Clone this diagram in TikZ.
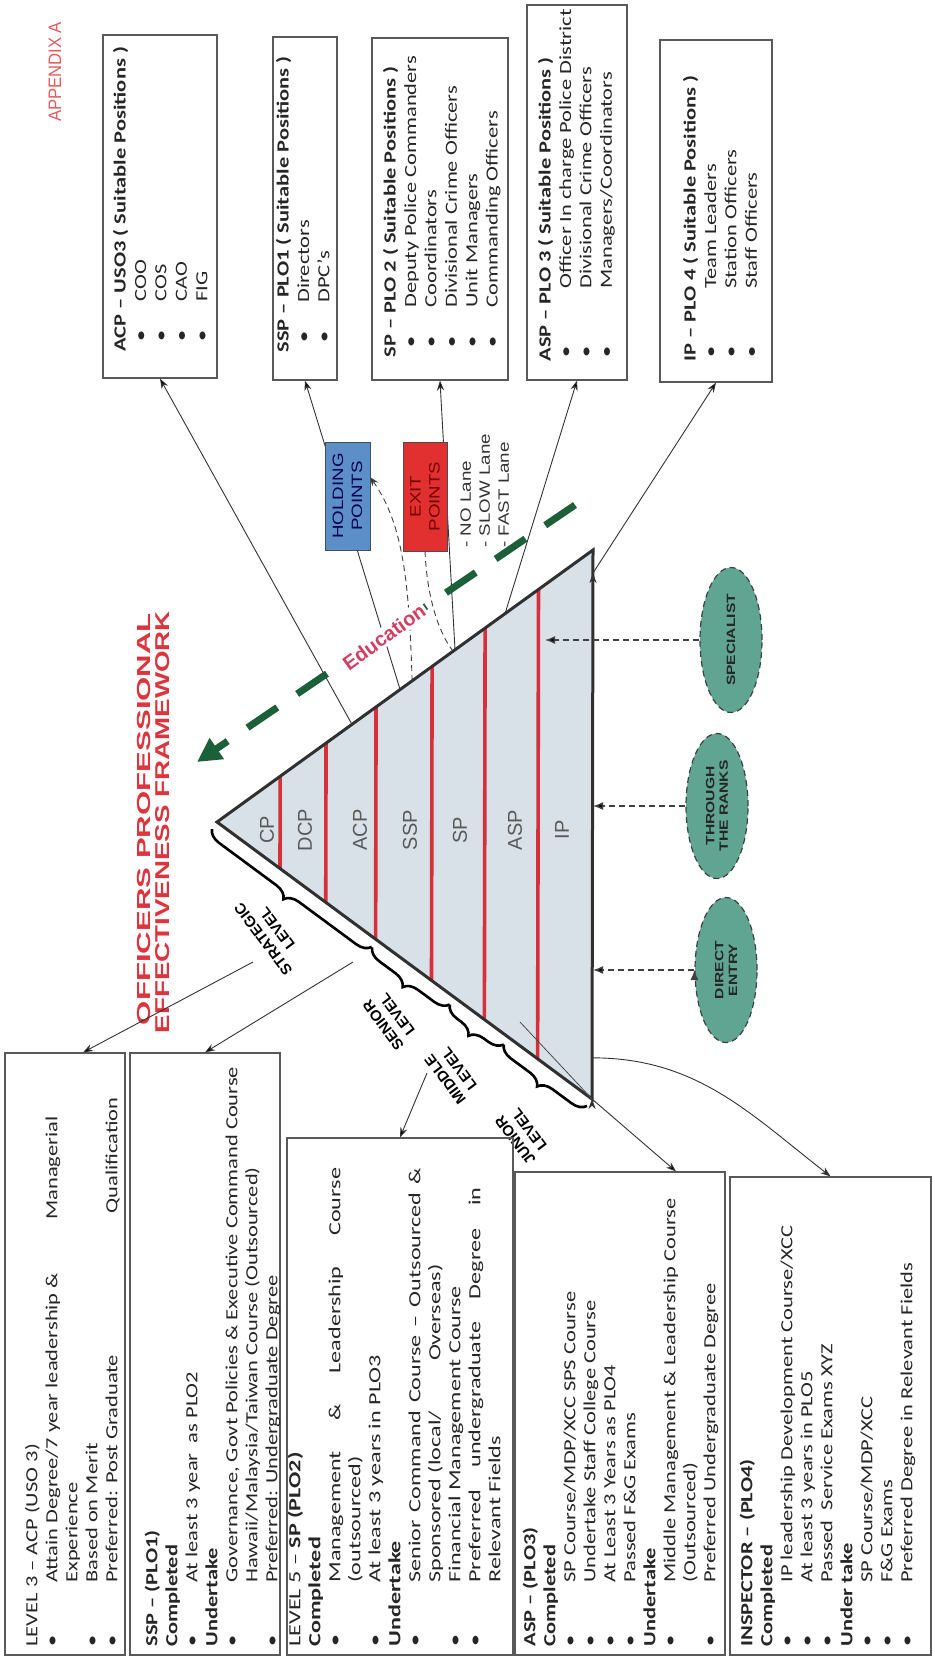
\documentclass[tikz,border=0pt]{standalone}
\usepackage{fontspec}
\usepackage{graphicx}
\setmainfont{Liberation Sans}
\newfontfamily\boxfnt{Carlito}
\usetikzlibrary{arrows.meta,calc,fit,shapes.geometric,decorations.pathreplacing}

\definecolor{titlered}{RGB}{222,52,62}
\definecolor{apxred}{RGB}{232,90,90}
\definecolor{edured}{RGB}{212,62,98}
\definecolor{edugreen}{RGB}{28,96,58}
\definecolor{trifill}{RGB}{216,225,231}
\definecolor{triedge}{RGB}{48,48,48}
\definecolor{bandred}{RGB}{214,48,58}
\definecolor{holdblue}{RGB}{92,142,200}
\definecolor{exitred}{RGB}{226,48,48}
\definecolor{ovalteal}{RGB}{96,164,146}

\newcommand{\tb}[1]{\makebox[18.9pt][l]{\hspace{3.8pt}\textbullet}#1}
\newcommand{\tw}[1]{\makebox[27.6pt][l]{\hspace{1.5pt}\textbullet}#1}
\newcommand{\bb}[2][24.2pt]{\makebox[#1][l]{\textbullet}#2}
\newcommand{\bc}[2][24.2pt]{\hspace*{#1}#2}

\tikzset{
  vtxt/.style={rotate=90, anchor=north west, align=left, inner sep=0pt, text=black!85},
  toptxt/.style={vtxt, xscale=1.32, font=\boxfnt\fontsize{8.5}{10.2}\selectfont},
  bottxt/.style={vtxt, xscale=1.32, font=\boxfnt\fontsize{8.5}{10}\selectfont},
  posbox/.style={draw=black!65, line width=0.6pt, inner sep=0pt},
  arr/.style={draw=black!80, line width=0.45pt, -{Stealth[length=5pt,width=3.6pt]}},
  band/.style={draw=bandred, line width=1.8pt},
  lvl/.style={rotate=127, align=center, inner sep=0pt, font=\bfseries\fontsize{7.5}{8.6}\selectfont},
  brc/.style={decorate, decoration={brace, amplitude=7pt, mirror}, line width=1.3pt},
  rank/.style={rotate=90, text=black!65, font=\fontsize{10}{12}\selectfont},
  oval/.style={ellipse, draw=black!75, densely dashed, line width=0.6pt, fill=ovalteal,
    minimum width=31pt, minimum height=72.5pt, inner sep=0pt},
  ovtxt/.style={rotate=90, xscale=1.3, align=center, text=black!85, font=\bfseries\fontsize{6}{6.8}\selectfont},
  entry/.style={draw=black!75, line width=0.7pt, dash pattern=on 3pt off 2pt, -{Latex[length=5pt,width=4pt]}},
  ptbox/.style={draw=black!70, line width=0.5pt, inner sep=0pt},
  pttxt/.style={rotate=90, xscale=1.25, align=center, font=\fontsize{7.5}{9.5}\selectfont},
  dsh/.style={draw=black!75, line width=0.45pt, dash pattern=on 3pt off 2pt},
  edu/.style={draw=edugreen, line width=3.5pt, dash pattern=on 18pt off 12pt,
    -{Triangle[length=12pt,width=12pt]}},
}

\begin{document}
\begin{tikzpicture}[x=0.5pt, y=0.5pt]
      \useasboundingbox (0, 0) rectangle (934, -1658);
      \coordinate (apex) at (217, -822);
      \coordinate (topc) at (593, -550);
      \coordinate (botc) at (592, -1099);
      \fill[trifill] (apex) -- (topc) -- (botc) -- cycle;
      \draw[band] ($(apex)!0.168!(topc)$) -- ($(apex)!0.168!(botc)$)
                  ($(apex)!0.290!(topc)$) -- ($(apex)!0.290!(botc)$)
                  ($(apex)!0.423!(topc)$) -- ($(apex)!0.423!(botc)$)
                  ($(apex)!0.572!(topc)$) -- ($(apex)!0.572!(botc)$)
                  ($(apex)!0.713!(topc)$) -- ($(apex)!0.713!(botc)$)
                  ($(apex)!0.855!(topc)$) -- ($(apex)!0.855!(botc)$);
      \draw[triedge, line width=1.5pt] (apex) -- (topc) -- (botc) -- cycle;
      \draw[black!70, line width=0.4pt] (botc) -- (520, -1022) coordinate (jl);
      \path (267, -830) node (cp) [rank] {CP}
            (305, -830) node (dcp) [rank] {DCP}
            (360, -830) node (acp) [rank] {ACP}
            (410, -830) node (ssp) [rank] {SSP}
            (460, -830) node (sp) [rank] {SP}
            (515, -830) node (asp) [rank] {ASP}
            (562, -830) node (ip) [rank] {IP};

      \coordinate (ea) at ($(apex)+(-5, -7)$);
      \coordinate (eb) at ($(botc)+(-5, -7)$);
      \draw[brc] (ea) -- ($(ea)!0.427!(eb)$);
      \draw[brc] ($(ea)!0.427!(eb)$) -- ($(ea)!0.634!(eb)$);
      \draw[brc] ($(ea)!0.634!(eb)$) -- ($(ea)!0.778!(eb)$);
      \draw[brc] ($(ea)!0.778!(eb)$) -- (eb);
      \path (270, -934) node (strat) [lvl] {STRATEGIC\\LEVEL}
            (390, -1020) node (senior) [lvl] {SENIOR\\LEVEL}
            (452, -1074) node (middle) [lvl] {MIDDLE\\LEVEL}
            (522, -1135) node (junior) [lvl] {JUNIOR\\LEVEL};

      \node (ttl1) [rotate=90, text=titlered, font=\bfseries] at (144, -819)
            {\resizebox{206pt}{6.6pt}{OFFICERS PROFESSIONAL}};
      \node (ttl2) [rotate=90, text=titlered, font=\bfseries] at (163, -822)
            {\resizebox{211pt}{7pt}{EFFECTIVENESS FRAMEWORK}};
      \node (apx) [rotate=90, text=apxred] at (55, -72)
            {\resizebox{50pt}{6.2pt}{APPENDIX A}};

      \node (acpbox) [posbox, fit={(103, -35) (217, -378)}] {};
      \node (sspbx) [posbox, fit={(273, -37) (337, -380)}] {};
      \node (spbox) [posbox, fit={(372, -38) (508, -380)}] {};
      \node (aspbx) [posbox, fit={(527, -5) (627, -380)}] {};
      \node (ipbox) [posbox, fit={(660, -40) (772, -382)}] {};
      \node (acptxt) [toptxt] at (111, -352)
            {\strut\textbf{ACP – USO3 ( Suitable Positions )}\\\tb{COO}\\\tb{COS}\\\tb{CAO}\\\tb{FIG}};
      \node (ssptxt) [toptxt] at (274, -353)
            {\strut\textbf{SSP – PLO1 ( Suitable Positions )}\\\tb{Directors}\\\tb{DPC’s}};
      \node (sptxt) [toptxt] at (381, -358)
            {\strut\textbf{SP – PLO 2 ( Suitable Positions )}\\\tb{Deputy Police Commanders}\\
             \tb{Coordinators}\\\tb{Divisional Crime Officers}\\\tb{Unit Managers}\\\tb{Commanding Officers}};
      \node (asptxt) [toptxt] at (536, -362)
            {\strut\textbf{ASP – PLO 3 ( Suitable Positions )}\\\tw{Officer In charge Police District}\\
             \tw{Divisional Crime Officers}\\\tw{Managers/Coordinators}};
      \node (iptxt) [toptxt] at (681, -362)
            {\strut\textbf{IP – PLO 4 ( Suitable Positions )}\\\tw{Team Leaders}\\\tw{Station Officers}\\\tw{Staff Officers}};

      \node (lvl3box) [posbox, fit={(5, -1053) (125, -1655)}] {};
      \node (sspbox) [posbox, fit={(130, -1053) (280, -1655)}] {};
      \node (lvl5box) [posbox, fit={(287, -1138) (513, -1655)}] {};
      \node (aspbox) [posbox, fit={(515, -1172) (725, -1655)}] {};
      \node (inspbox) [posbox, fit={(730, -1177) (931, -1655)}] {};
      \node (lvl3txt) [bottxt] at (23, -1647)
            {\strut LEVEL 3 – ACP (USO 3)\\
             \bb{\makebox[176.5pt][l]{Attain Degree/7 year leadership \&\hfill Managerial}}\\
             \bc{Experience}\\\bb{Based on Merit}\\
             \bb{\makebox[183.7pt][l]{Preferred: Post Graduate\hfill Qualification}}};
      \node (sspbtxt) [bottxt] at (143, -1647)
            {\strut\textbf{SSP – (PLO1)}\\\textbf{Completed}\\\bb{At least 3 year\ \ as PLO2}\\
             \textbf{Undertake}\\\bb{Governance, Govt Policies \& Executive Command Course}\\
             \bc{Hawaii/Malaysia/Taiwan Course (Outsourced)}\\\bb{Preferred: Undergraduate Degree}};
      \node (lvl5txt) [vtxt, xscale=1.42, font=\boxfnt\fontsize{8.5}{10}\selectfont] at (286, -1647)
            {\strut LEVEL 5 – \textbf{SP (PLO2)}\\\textbf{Completed}\\
             \bb[22.5pt]{\makebox[146pt][s]{Management \& Leadership Course}}\\\bc[22.5pt]{(outsourced)}\\
             \bb[22.5pt]{At least 3 years in PLO3}\\\textbf{Undertake}\\
             \bb[22.5pt]{\makebox[146pt][s]{Senior Command Course – Outsourced \&}}\\
             \bc[22.5pt]{\makebox[112pt][l]{Sponsored (local/\hfill Overseas)}}\\
             \bb[22.5pt]{Financial Management Course}\\
             \bb[22.5pt]{\makebox[139pt][s]{Preferred undergraduate Degree in}}\\\bc[22.5pt]{Relevant Fields}};
      \node (aspbtxt) [bottxt] at (521, -1647)
            {\strut\textbf{ASP – (PLO3)}\\\textbf{Completed}\\\bb{SP Course/MDP/XCC SPS Course}\\
             \bb{Undertake Staff College Course}\\\bb{At Least 3 Years as PLO4}\\\bb{Passed F\&G Exams}\\
             \textbf{Undertake}\\\bb{Middle Management \& Leadership Course}\\\bc{(Outsourced)}\\
             \bb{Preferred Undergraduate Degree}};
      \node (insptxt) [bottxt] at (738, -1647)
            {\strut\textbf{INSPECTOR – (PLO4)}\\\textbf{Completed}\\\bb{IP leadership Development Course/XCC}\\
             \bb{At least 3 years in PLO5}\\\bb{Passed\ \ Service Exams XYZ}\\\textbf{Under take}\\
             \bb{SP Course/MDP/XCC}\\\bb{F\&G Exams}\\\bb{Preferred Degree in Relevant Fields}};

      \coordinate (acpA) at ($(apex)!0.359!(topc)$);
      \coordinate (sspA) at ($(apex)!0.487!(topc)$);
      \coordinate (spA) at ($(apex)!0.633!(topc)$);
      \coordinate (aspA) at ($(apex)!0.766!(topc)$);
      \coordinate (ipA) at ($(topc)!0.042!(botc)$);
      \coordinate (holdA) at ($(apex)!0.519!(topc)$);
      \coordinate (exitA) at ($(apex)!0.628!(topc)$);
      \coordinate (inspA) at ($(topc)!0.925!(botc)$);
      \coordinate (sa) at (253, -962);
      \coordinate (sb) at (353, -962);
      \coordinate (ma) at (427, -1073);
      \coordinate (specT) at (545, -640);
      \draw[arr] (acpA) edge (acpbox.south)
                 (sspA) edge (sspbx.south)
                 (spA) edge (spbox.south)
                 (aspA) edge (aspbx.south)
                 (ipA) edge (ipbox.south);
      \draw[arr] (sa) edge ([xshift=9pt]lvl3box.north)
                 (sb) edge (sspbox.north)
                 (ma) edge (lvl5box.north)
                 (botc) edge ([xshift=28pt]aspbox.north);
      \draw[arr] (inspA) to[out=0, in=142] (inspbox.north);

      \draw[dsh, -{Stealth[length=4.5pt,width=3.5pt]}] (holdA) .. controls (409, -585) and (404, -525) .. (370, -477);
      \draw[dsh] (425, -551) .. controls (427, -600) and (440, -635) .. (exitA);
      \node (holdpts) [ptbox, fill=holdblue, minimum width=22.5pt, minimum height=54pt] at (347.5, -496) {};
      \node (exitpts) [ptbox, fill=exitred, minimum width=22pt, minimum height=54.5pt] at (425, -496.5) {};
      \node (holdtxt) [pttxt, text=blue!30!black] at (holdpts) {HOLDING\\POINTS};
      \node (exittxt) [pttxt, text=red!45!black] at (exitpts) {EXIT\\POINTS};
      \node (lanes) [rotate=90, xscale=1.25, anchor=north west, align=left, inner sep=0pt, text=black!80,
            font=\fontsize{7.5}{9.5}\selectfont] at (460, -548) {- NO Lane\\- SLOW Lane\\- FAST Lane};

      \draw[edu] (575, -505) coordinate (eduS) -- (197, -762) coordinate (eduE);
      \node (edtxt) [rotate=36, fill=white, inner sep=1pt, text=edured, font=\bfseries\fontsize{10}{12}\selectfont]
            at (384, -637) {Education};

      \node (spec) [oval] at (731, -640) {};
      \node (thru) [oval] at (717, -806) {};
      \node (dent) [oval] at (726, -970) {};
      \node (spect) [ovtxt] at (spec) {SPECIALIST};
      \node (thrut) [ovtxt] at (thru) {THROUGH\\THE RANKS};
      \node (dentt) [ovtxt] at (dent) {DIRECT\\ENTRY};
      \draw[entry] (spec.west) edge (specT)
                   (thru.west) edge (thru.west -| topc)
                   (dent.west) edge (dent.west -| topc);
\end{tikzpicture}
\end{document}
